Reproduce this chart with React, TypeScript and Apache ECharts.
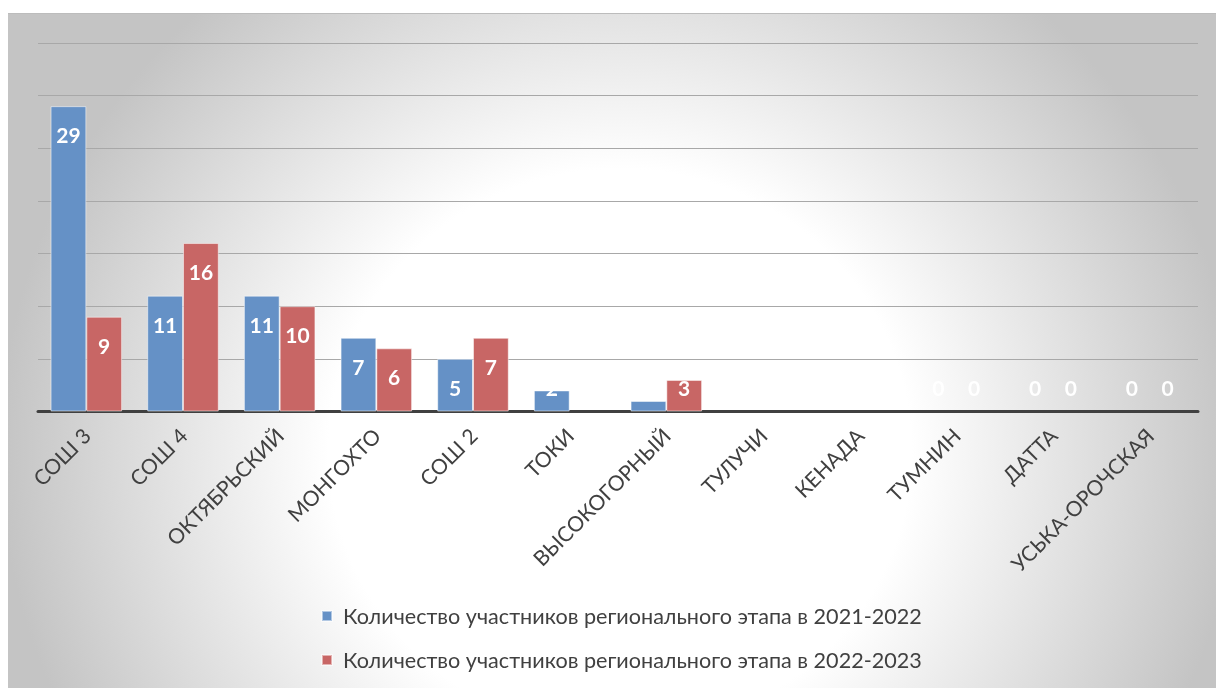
import React, { useEffect, useRef } from "react";
import * as echarts from "echarts";

const categories = [
  "СОШ 3",
  "СОШ 4",
  "ОКТЯБРЬСКИЙ",
  "МОНГОХТО",
  "СОШ 2",
  "ТОКИ",
  "ВЫСОКОГОРНЫЙ",
  "ТУЛУЧИ",
  "КЕНАДА",
  "ТУМНИН",
  "ДАТТА",
  "УСЬКА-ОРОЧСКАЯ",
];
const series2122 = [29, 11, 11, 7, 5, 2, 1, 0, 0, 0, 0, 0];
const series2223 = [9, 16, 10, 6, 7, 0, 3, 0, 0, 0, 0, 0];
const seriesNames = [
  "Количество участников регионального этапа в 2021-2022",
  "Количество участников регионального этапа в 2022-2023",
];
const yMin = 0;
const yMax = 35;
const yInterval = 5;

const FONT = "Lato, 'Open Sans', sans-serif";

function toItems(values: number[]) {
  return values.map((v) => ({
    value: v,
    itemStyle: v === 0 ? { borderWidth: 0 } : undefined,
    label: v >= 5 ? { position: "insideTop", distance: 18 } : { position: "insideBottom", distance: 14 },
  }));
}

export default function App() {
  const ref = useRef<HTMLDivElement>(null);
  useEffect(() => {
    if (!ref.current) return;
    const chart = echarts.init(ref.current, undefined, { renderer: "svg" });
    const labelStyle = {
      show: true,
      color: "#ffffff",
      fontFamily: FONT,
      fontWeight: "bold",
      fontSize: 21,
    };
    chart.setOption({
      animation: false,
      backgroundColor: "transparent",
      grid: { left: 30, right: 18, top: 29, bottom: 276.5, containLabel: false },
      legend: {
        orient: "vertical",
        left: 308,
        top: 586,
        itemWidth: 10,
        itemHeight: 10,
        itemGap: 22,
        icon: "rect",
        textStyle: { color: "#404040", fontFamily: FONT, fontSize: 21.6, padding: [0, 0, 0, 6] },
        data: seriesNames,
      },
      xAxis: {
        type: "category",
        data: categories,
        axisLine: { show: true, lineStyle: { color: "#404040", width: 3 } },
        axisTick: { show: false },
        axisLabel: {
          interval: 0,
          rotate: 45,
          margin: 20,
          color: "#404040",
          fontFamily: FONT,
          fontSize: 21,
        },
      },
      yAxis: {
        type: "value",
        min: yMin,
        max: yMax,
        interval: yInterval,
        axisLabel: { show: false },
        axisLine: { show: false },
        axisTick: { show: false },
        splitLine: { lineStyle: { color: "#a8a8a8", width: 1 } },
      },
      series: [
        {
          name: seriesNames[0],
          type: "bar",
          data: toItems(series2122),
          barGap: "0%",
          barCategoryGap: "26%",
          itemStyle: { color: "#6591C6", borderColor: "rgba(255,255,255,0.5)", borderWidth: 1 },
          label: labelStyle,
        },
        {
          name: seriesNames[1],
          type: "bar",
          data: toItems(series2223),
          barGap: "0%",
          barCategoryGap: "26%",
          itemStyle: { color: "#C86665", borderColor: "rgba(255,255,255,0.5)", borderWidth: 1 },
          label: labelStyle,
        },
      ],
    });
    return () => chart.dispose();
  }, []);
  return (
    <div
      ref={ref}
      style={{
        position: "fixed",
        left: 8,
        top: 13,
        width: 1208,
        height: 675,
        borderTop: "1px solid #bcbcbc",
        boxSizing: "border-box",
        background:
          "radial-gradient(ellipse 620px 600px at 612px 437px, #ffffff 0%, #ffffff 47%, #c4c4c4 100%)",
      }}
    />
  );
}
